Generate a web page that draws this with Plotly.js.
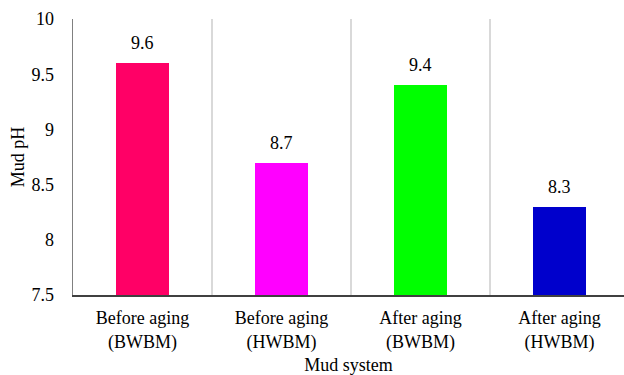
<!DOCTYPE html>
<html><head><meta charset="utf-8">
<script src="https://cdn.plot.ly/plotly-3.0.1.min.js"></script>
<style>html,body{margin:0;padding:0;background:#fff}</style>
</head><body><div id="chart" style="width:624px;height:375px"></div>
<script>
var categories = ["Before aging<br>(BWBM)", "Before aging<br>(HWBM)", "After aging<br>(BWBM)", "After aging<br>(HWBM)"];
var values = [9.6, 8.7, 9.4, 8.3];
var colors = ["#FF0066", "#FF00FF", "#00FF00", "#0000CC"];
var yTicks = [7.5, 8, 8.5, 9, 9.5, 10];
var yTickText = ["7.5", "8", "8.5", "9", "9.5", "10"];

var idx = categories.map(function(c, i){ return i; });
var font = {family: "Liberation Serif", size: 18, color: "#000"};

var trace = {
  type: "bar", x: idx, y: values, width: 0.38,
  marker: {color: colors},
  hoverinfo: "none"
};
var annotations = idx.map(function(i){
  return {x: i, y: values[i], text: values[i].toFixed(1), showarrow: false,
    yanchor: "bottom", yshift: 8, font: font};
});
var layout = {
  width: 624, height: 375,
  margin: {l: 73, r: 0, t: 19, b: 80},
  paper_bgcolor: "#fff", plot_bgcolor: "#fff",
  font: font,
  showlegend: false,
  bargap: 0,
  xaxis: {
    type: "linear", range: [-0.5, 3.464],
    tickvals: idx, ticktext: categories,
    showgrid: false, zeroline: false,
    showline: true, linecolor: "#404040", linewidth: 1.5,
    ticks: "", tickfont: font, ticklabelstandoff: 6,
    minor: {tickvals: [0.5, 1.5, 2.5], showgrid: true, gridcolor: "#d9d9d9", gridwidth: 1.5, ticks: ""},
    title: {text: "Mud system", font: font, standoff: 14}
  },
  yaxis: {
    range: [7.5, 10], tickvals: yTicks, ticktext: yTickText,
    showgrid: false, zeroline: false,
    showline: true, linecolor: "#808080", linewidth: 1.5,
    ticks: "", ticklabelstandoff: 14, tickfont: font,
    title: {text: "Mud pH", font: font, standoff: 2}
  },
  annotations: annotations
};
Plotly.newPlot("chart", [trace], layout, {displayModeBar: false, staticPlot: true});
</script></body></html>
